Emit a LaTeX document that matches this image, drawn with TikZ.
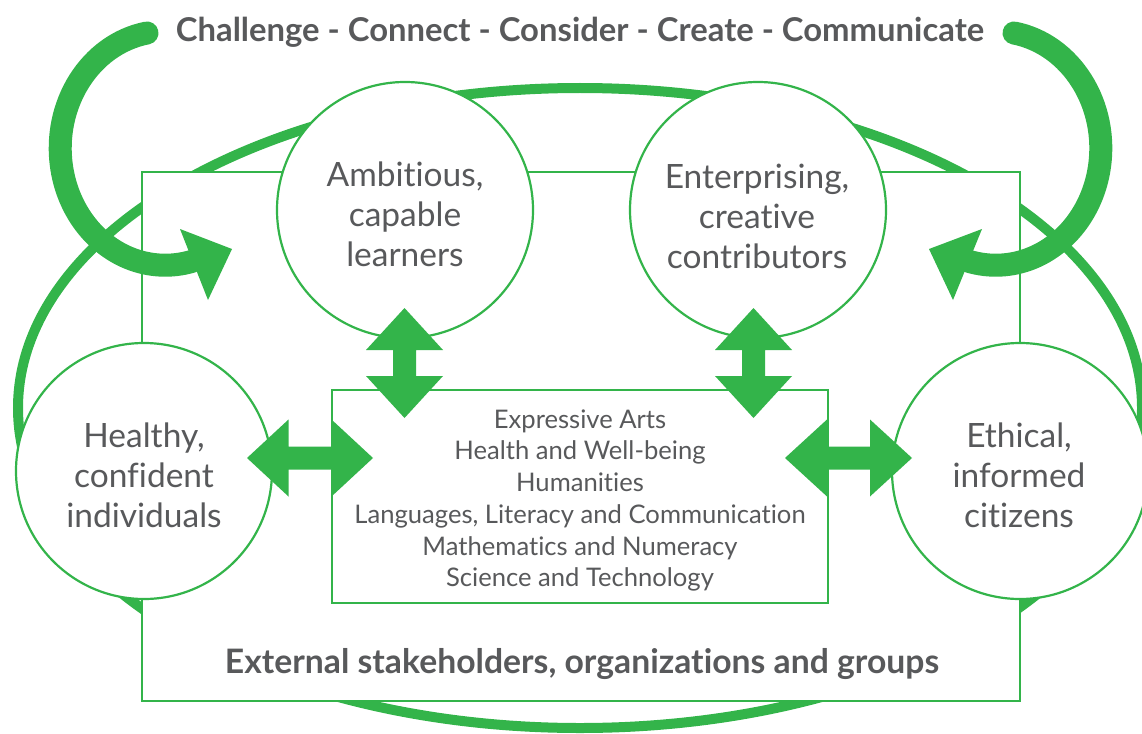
\documentclass[tikz,border=0pt]{standalone}
\usepackage{fontspec}
\setmainfont{Lato}[Ligatures=NoCommon]
\usetikzlibrary{shapes.geometric}
\definecolor{gr}{HTML}{33B44A}
\definecolor{tx}{HTML}{58595B}
\tikzset{
  circbox/.style={circle, draw=gr, line width=2.2, fill=white, minimum size=256, inner sep=0pt},
  circtext/.style={align=center, text=tx, inner sep=0pt, font=\fontsize{33.5}{40}\selectfont},
  boxline/.style={rectangle, draw=gr, line width=2.4, fill=white, inner sep=0pt},
  bigarc/.style={draw=gr, line width=23, line cap=round},
  headfill/.style={fill=gr},
  pics/dbl/.style args={#1/#2}{code={
    \fill[gr] (-#1,0) -- (-#2,-38.5) -- (-#2,-11.5) -- (#2,-11.5) -- (#2,-38.5) -- (#1,0)
      -- (#2,38.5) -- (#2,11.5) -- (-#2,11.5) -- (-#2,38.5) -- cycle;}}
}
\begin{document}
\begin{tikzpicture}[x=1pt,y=-1pt]
\useasboundingbox (0,0) rectangle (1142,733);
% big ring
\node[ellipse, draw=gr, line width=10, minimum width=1124, minimum height=640, inner sep=0pt] (ring) at (580,408) {};
% outer box
\node[boxline, minimum width=878, minimum height=529] (ext) at (581,436.5) {};
% curved arrows
\coordinate (lstart) at (147,33);
\coordinate (rstart) at (1014,33);
\draw[bigarc] (lstart) arc[start angle=260, end angle=75, x radius=105, y radius=117];
\fill[headfill] (180,229) -- (232,249) -- (208,300) -- cycle;
\draw[bigarc] (rstart) arc[start angle=-80, end angle=105, x radius=105, y radius=117];
\fill[headfill] (982,229) -- (929,249) -- (953,300) -- cycle;
% inner box
\node[boxline, minimum width=496, minimum height=213] (subj) at (580,496.5) {};
\node[align=center, text=tx, inner sep=0pt, font=\fontsize{25.6}{31.7}\selectfont] (subjtext) at (580,500.5)
  {Expressive Arts\\Health and Well-being\\Humanities\\Languages, Literacy and Communication\\Mathematics and Numeracy\\Science and Technology};
% circles
\node[circbox] (amb) at (405,210) {};
\node[circbox] (ent) at (758,210) {};
\node[circbox] (hea) at (144,471) {};
\node[circbox] (eth) at (1020,471) {};
\node[circtext] (ambt) at (405,214) {Ambitious,\\capable\\learners};
\node[circtext] (entt) at (757,216) {Enterprising,\\creative\\contributors};
\node[circtext] (heat) at (144,475) {Healthy,\\confident\\individuals};
\node[circtext] (etht) at (1019,475) {Ethical,\\informed\\citizens};
% double arrows
\pic[rotate=90] at (404.5,363) {dbl=55/13};
\pic[rotate=90] at (753.5,363) {dbl=55/13};
\pic at (310,458) {dbl=63/21.5};
\pic at (848.5,458) {dbl=63.5/21.5};
% texts
\node[anchor=base, text=tx, font=\bfseries\fontsize{32.8}{33}\selectfont] (title) at (580,42)
  {Challenge - Connect - Consider - Create - Communicate};
\node[anchor=base, text=tx, font=\bfseries\fontsize{33.7}{34}\selectfont] (exttext) at (582,673)
  {External stakeholders, organizations and groups};
\end{tikzpicture}
\end{document}
